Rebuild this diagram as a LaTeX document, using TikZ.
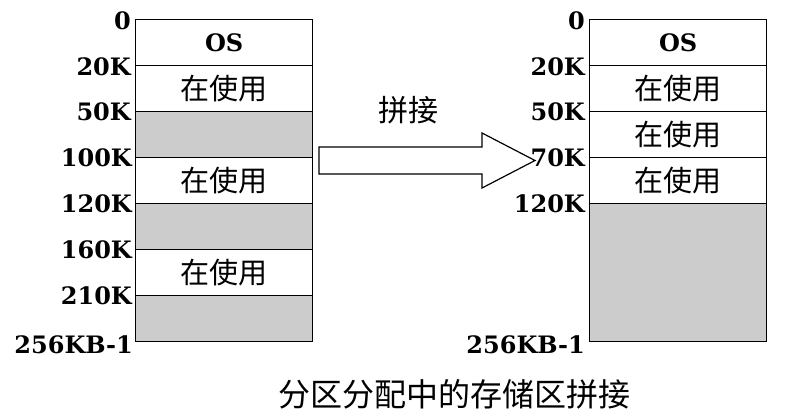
\documentclass[tikz,border=0pt]{standalone}
\usepackage{fontspec}
\setmainfont{DejaVu Serif}
\newfontfamily\cjk{Noto Sans CJK SC}
\tikzset{
  seg/.style={draw=black,line width=1.4pt,minimum width=177pt,minimum height=46pt,
    anchor=north west,inner sep=0pt,font=\cjk\fontsize{29}{29}\selectfont},
  used/.style={seg,fill=white},
  free/.style={seg,fill=black!20},
  ostext/.style={font=\bfseries\fontsize{24}{24}\selectfont},
  addr/.style={anchor=east,inner sep=0pt,font=\bfseries\fontsize{24}{24}\selectfont},
  blockarrow/.style={draw=black,line width=1.2pt,fill=white},
}

\begin{document}
\begin{tikzpicture}[x=1pt,y=-1pt]
\useasboundingbox (0,0) rectangle (787,417);
% memory before
\node[used,ostext] (L0) at (135,19) {OS};
\node[used] (L1) at (135,65) {在使用};
\node[free] (L2) at (135,111) {};
\node[used] (L3) at (135,157) {在使用};
\node[free] (L4) at (135,203) {};
\node[used] (L5) at (135,249) {在使用};
\node[free] (L6) at (135,295) {};
\node[addr] (la0) at ([xshift=-4pt,yshift=-2pt]L0.north west) {0};
\node[addr] (la1) at ([xshift=-4pt,yshift=-2pt]L1.north west) {20K};
\node[addr] (la2) at ([xshift=-4pt,yshift=-1pt]L2.north west) {50K};
\node[addr] (la3) at ([xshift=-3pt,yshift=-1pt]L3.north west) {100K};
\node[addr] (la4) at ([xshift=-3pt,yshift=-1pt]L4.north west) {120K};
\node[addr] (la5) at ([xshift=-3pt,yshift=-1pt]L5.north west) {160K};
\node[addr] (la6) at ([xshift=-3pt,yshift=-1pt]L6.north west) {210K};
\node[addr] (la7) at ([xshift=-2pt,yshift=-2pt]L6.south west) {256KB-1};
% memory after
\node[used,ostext] (R0) at (589,19) {OS};
\node[used] (R1) at (589,65) {在使用};
\node[used] (R2) at (589,111) {在使用};
\node[used] (R3) at (589,157) {在使用};
\node[free,minimum height=138pt] (R4) at (589,203) {};
\node[addr] (ra0) at ([xshift=-4pt,yshift=-2pt]R0.north west) {0};
\node[addr] (ra1) at ([xshift=-4pt,yshift=-2pt]R1.north west) {20K};
\node[addr] (ra2) at ([xshift=-4pt,yshift=-1pt]R2.north west) {50K};
\node[addr] (ra3) at ([xshift=-4pt,yshift=-1pt]R3.north west) {70K};
\node[addr] (ra4) at ([xshift=-4pt,yshift=-1pt]R4.north west) {120K};
\node[addr] (ra5) at ([xshift=-4pt,yshift=-2pt]R4.south west) {256KB-1};
% compaction arrow
\draw[blockarrow] (319,147) -- (482,147) -- (482,133) -- (535,160.5)
  -- (482,188) -- (482,174) -- (319,174) -- cycle;
\node[font=\cjk\fontsize{30}{30}\selectfont] (join) at (408,110) {拼接};
\node[font=\cjk\fontsize{32}{32}\selectfont] (title) at (454,394) {分区分配中的存储区拼接};
\end{tikzpicture}
\end{document}
